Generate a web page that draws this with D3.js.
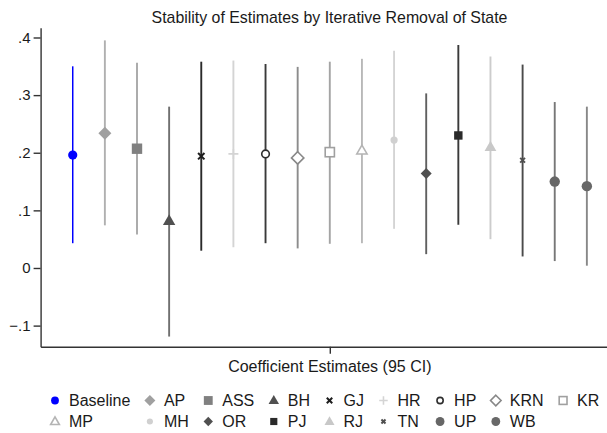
<!DOCTYPE html>
<html>
<head>
<meta charset="utf-8">
<script src="https://cdn.jsdelivr.net/npm/d3@7"></script>
<style>
  body { margin: 0; background: #fff; }
  text { font-family: Arial, "Liberation Sans", sans-serif; fill: #1a1a1a; }
</style>
</head>
<body>
<div id="container"></div>
<script>
let w = 607;
let h = 433;

// DATA
let states    = ["Baseline", "AP", "ASS", "BH", "GJ", "HR", "HP", "KRN", "KR",
                 "MP", "MH", "OR", "PJ", "RJ", "TN", "UP", "WB"];
let estimates = [0.196, 0.234, 0.207, 0.082, 0.194, 0.198, 0.198, 0.191, 0.201,
                 0.204, 0.222, 0.164, 0.230, 0.210, 0.187, 0.150, 0.142];
let lowerCI   = [0.043, 0.074, 0.058, -0.119, 0.030, 0.036, 0.043, 0.034, 0.042,
                 0.043, 0.068, 0.024, 0.075, 0.050, 0.020, 0.012, 0.004];
let upperCI   = [0.350, 0.395, 0.356, 0.280, 0.358, 0.360, 0.354, 0.349, 0.358,
                 0.363, 0.377, 0.303, 0.387, 0.367, 0.353, 0.288, 0.280];
let yTicks = [-0.1, 0, 0.1, 0.2, 0.3, 0.4];
let legendRow1 = ["Baseline", "AP", "ASS", "BH", "GJ", "HR", "HP", "KRN", "KR"];
let legendRow2 = ["MP", "MH", "OR", "PJ", "RJ", "TN", "UP", "WB"];

// STYLES (marker shape, size, colours)
let styles = {
  Baseline: {shape: "circle",   size: 4.6, fill: "#0000ff", line: "#0000ff"},
  AP:       {shape: "diamond",  size: 6.5, fill: "#a0a0a0", line: "#b0b0b0"},
  ASS:      {shape: "square",   size: 5.2, fill: "#808080", line: "#a8a8a8"},
  BH:       {shape: "triangle", size: 6.5, fill: "#505050", line: "#707070"},
  GJ:       {shape: "x",        size: 3.2, fill: "#1e1e1e", line: "#2a2a2a"},
  HR:       {shape: "plus",     size: 5,   fill: "#d4d4d4", line: "#d4d4d4"},
  HP:       {shape: "ocircle",  size: 4.6, fill: "#2e2e2e", line: "#3a3a3a"},
  KRN:      {shape: "odiamond", size: 6.2, fill: "#888888", line: "#8c8c8c"},
  KR:       {shape: "osquare",  size: 4.6, fill: "#a0a0a0", line: "#a4a4a4"},
  MP:       {shape: "otriangle",size: 5.4, fill: "#b4b4b4", line: "#b8b8b8"},
  MH:       {shape: "circle",   size: 3.6, fill: "#d0d0d0", line: "#d4d4d4"},
  OR:       {shape: "diamond",  size: 5.5, fill: "#505050", line: "#606060"},
  PJ:       {shape: "square",   size: 4.2, fill: "#2a2a2a", line: "#3a3a3a"},
  RJ:       {shape: "triangle", size: 6.2, fill: "#c8c8c8", line: "#cccccc"},
  TN:       {shape: "x",        size: 2.4, fill: "#505050", line: "#4a4a4a"},
  UP:       {shape: "circle",   size: 5.2, fill: "#666666", line: "#777777"},
  WB:       {shape: "circle",   size: 5.2, fill: "#686868", line: "#888888"}
};

// SVG
let viz = d3.select("#container").append("svg")
    .attr("width", w)
    .attr("height", h)
    .style("background-color", "white");

// SCALES
let xScale = d3.scaleLinear().domain([0, states.length + 1]).range([40.6, 619]);
let yScale = d3.scaleLinear().domain([-0.1366, 0.417]).range([346.7, 27.7]);

function fmt(v) {
  if (Math.abs(v) < 1e-9) return "0";
  return d3.format(".1f")(v).replace("0.", ".");
}

// draw one marker into a group
function marker(g, st, scale) {
  let s = st.size * (scale || 1);
  if (st.shape == "circle") {
    g.append("circle").attr("r", s).attr("fill", st.fill);
  } else if (st.shape == "ocircle") {
    g.append("circle").attr("r", s - 0.8).attr("fill", "white")
      .attr("stroke", st.fill).attr("stroke-width", 1.6);
  } else if (st.shape == "diamond" || st.shape == "odiamond") {
    let p = g.append("path").attr("d", `M0,${-s}L${s},0L0,${s}L${-s},0Z`);
    if (st.shape == "diamond") p.attr("fill", st.fill);
    else p.attr("fill", "white").attr("stroke", st.fill).attr("stroke-width", 1.6);
  } else if (st.shape == "square" || st.shape == "osquare") {
    let p = g.append("rect").attr("x", -s).attr("y", -s).attr("width", 2 * s).attr("height", 2 * s);
    if (st.shape == "square") p.attr("fill", st.fill);
    else p.attr("fill", "white").attr("stroke", st.fill).attr("stroke-width", 1.6);
  } else if (st.shape == "triangle" || st.shape == "otriangle") {
    let p = g.append("path").attr("d", `M0,${-s}L${s * 0.95},${s * 0.65}L${-s * 0.95},${s * 0.65}Z`);
    if (st.shape == "triangle") p.attr("fill", st.fill);
    else p.attr("fill", "white").attr("stroke", st.fill).attr("stroke-width", 1.6);
  } else if (st.shape == "x") {
    g.append("path").attr("d", `M${-s},${-s}L${s},${s}M${-s},${s}L${s},${-s}`)
      .attr("stroke", st.fill).attr("stroke-width", 2);
  } else if (st.shape == "plus") {
    g.append("path").attr("d", `M${-s},0L${s},0M0,${-s}L0,${s}`)
      .attr("stroke", st.fill).attr("stroke-width", 1.6);
  }
}

// TITLE
viz.append("text")
  .attr("x", 329.5).attr("y", 23)
  .attr("text-anchor", "middle")
  .style("font-size", "15.9px")
  .text("Stability of Estimates by Iterative Removal of State");

// AXES
let yAxis = d3.axisLeft(yScale).tickValues(yTicks).tickFormat(fmt).tickSize(7).tickPadding(3).tickSizeOuter(0);
let yg = viz.append("g").attr("transform", "translate(40.6,0)").call(yAxis);
yg.selectAll("text").style("font-size", "15px");
yg.selectAll("line,path").attr("stroke", "#333").attr("stroke-width", 1.4);

let xAxis = d3.axisBottom(xScale).tickValues([(states.length + 1) / 2]).tickFormat("").tickSize(7).tickSizeOuter(0);
let xg = viz.append("g").attr("transform", "translate(0,346.7)").call(xAxis);
xg.selectAll("line,path").attr("stroke", "#333").attr("stroke-width", 1.4);

viz.append("text")
  .attr("x", xScale((states.length + 1) / 2)).attr("y", 371.5)
  .attr("text-anchor", "middle")
  .style("font-size", "16px")
  .text("Coefficient Estimates (95 CI)");

// CI LINES + MARKERS
let groups = viz.selectAll(".est").data(states).enter()
  .append("g").attr("class", "est");

groups.append("line")
  .attr("x1", (d, i) => xScale(i + 1))
  .attr("x2", (d, i) => xScale(i + 1))
  .attr("y1", (d, i) => yScale(lowerCI[i]))
  .attr("y2", (d, i) => yScale(upperCI[i]))
  .attr("stroke", d => styles[d].line)
  .attr("stroke-width", (d, i) => i == 0 ? 1.5 : 1.9);

groups.each(function(d, i) {
  let g = d3.select(this).append("g")
    .attr("transform", `translate(${xScale(i + 1)},${yScale(estimates[i])})`);
  marker(g, styles[d]);
});

// LEGEND
let legend = viz.append("g").attr("class", "legend");
let rows = [legendRow1, legendRow2];
let rowY = [406, 427];
let colX = [];
// column widths from the longest label in each column
let x = 55;
for (let c = 0; c < legendRow1.length; c++) {
  colX.push(x);
  let maxW = 0;
  rows.forEach(function(r) {
    if (r[c] == undefined) return;
    let t = legend.append("text").style("font-size", "16px").text(r[c]);
    maxW = Math.max(maxW, t.node().getComputedTextLength());
    t.remove();
  });
  x = x + 14 + maxW + 19.5;
}
rows.forEach(function(r, ri) {
  r.forEach(function(name, c) {
    let g = legend.append("g").attr("transform", `translate(${colX[c]},${rowY[ri] - 5.5})`);
    marker(g, styles[name], 0.85);
    legend.append("text")
      .attr("x", colX[c] + 14).attr("y", rowY[ri])
      .style("font-size", "16px")
      .text(name);
  });
});
</script>
</body>
</html>
